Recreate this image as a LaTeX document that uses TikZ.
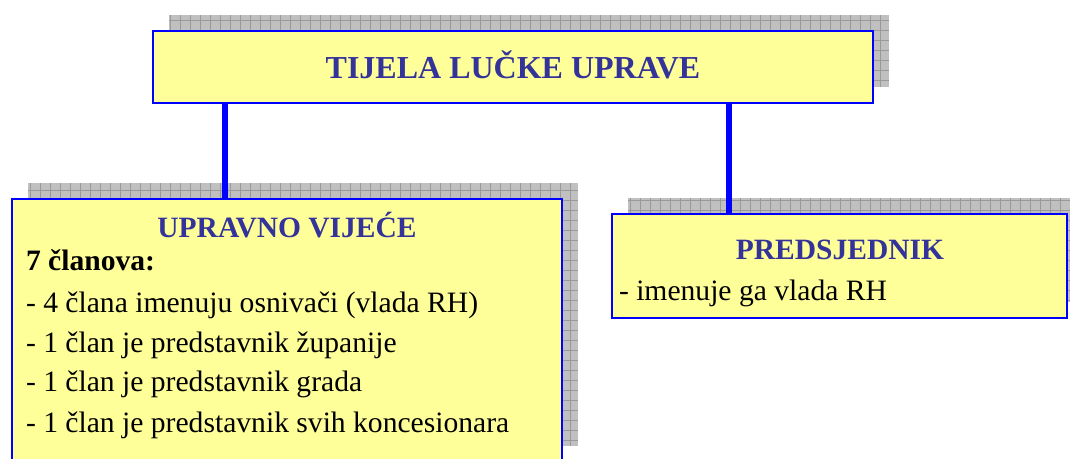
\documentclass[tikz,border=0pt]{standalone}
\usepackage{fontspec}
\setmainfont{Liberation Serif}
\usepackage{color}
\definecolor{bf}{HTML}{FFFF99}
\definecolor{bl}{HTML}{0000FF}
\definecolor{hd}{HTML}{333399}
\definecolor{sh}{HTML}{C0C0C0}
\definecolor{sg}{HTML}{9A9A9A}
\usetikzlibrary{positioning}

\begin{document}
\begin{tikzpicture}[x=1pt, y=-1pt,
                    every node/.style = {inner sep=0pt, outer sep=0pt},
                    box/.style = {rectangle, draw=bl, fill=bf, line width=2pt},
                    shadowbox/.style = {fill=sh},
                    shadowgrid/.style = {draw=sg, line width=0.7pt, step=10pt},
                    head/.style = {text=hd, anchor=base, font=\fontsize{29.5}{34}\selectfont\bfseries},
                    body/.style = {text=black, anchor=base west, font=\fontsize{29.6}{34}\selectfont},
                    link/.style = {draw=bl, line width=6pt}]
                \useasboundingbox (0,0) rectangle (1070,458);
                \clip (0,0) rectangle (1070,458);
                % shadows
                \foreach \xa/\ya/\xb/\yb in {169/15/889/87, 28/183/578/446, 628/198/1083/302}{
                    \fill[shadowbox] (\xa,\ya) rectangle (\xb,\yb);
                    \draw[shadowgrid] (\xa,\yb) grid (\xb,\ya);
                }
                % boxes
                \node (top)     [box, line width=2.4pt, minimum width=720, minimum height=72] at (513,67)    {};
                \node (council) [box, minimum width=550, minimum height=263]                  at (287,330.5) {};
                \node (pres)    [box, minimum width=455, minimum height=104]                  at (839.5,266) {};
                % links
                \coordinate (lx) at (225,0);
                \coordinate (rx) at (729,0);
                \draw[link] (top.south -| lx) -- (council.north -| lx);
                \draw[link] (top.south -| rx) -- (pres.north -| rx);
                % texts
                \node (title)   [head, font=\fontsize{32}{38}\selectfont\bfseries] at (513,78) {TIJELA LUČKE UPRAVE};
                \node (councilhd) [head] at (287,237) {UPRAVNO VIJEĆE};
                \node (members) [body, font=\fontsize{29.6}{34}\selectfont\bfseries] at (26,270) {7 članova:};
                \node (m1)      [body] at (26,312) {- 4 člana imenuju osnivači (vlada RH)};
                \node (m2)      [body] at (26,352) {- 1 član je predstavnik županije};
                \node (m3)      [body] at (26,391) {- 1 član je predstavnik grada};
                \node (m4)      [body] at (26,432) {- 1 član je predstavnik svih koncesionara};
                \node (preshd)  [head] at (840,259) {PREDSJEDNIK};
                \node (p1)      [body] at (619,300) {- imenuje ga vlada RH};
            \end{tikzpicture}
\end{document}
